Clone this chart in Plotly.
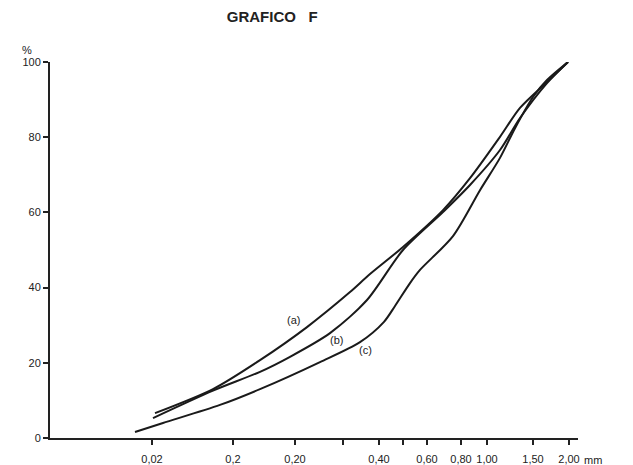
import plotly.graph_objects as go

# x positions along the hand-drawn (non-uniform) grain-size scale, in drawing units
tick_pos = [102, 183, 245, 293, 329, 353, 377, 411, 437, 483, 519]
tick_text = ["0,02", "0,2", "0,20", "", "0,40", "", "0,60", "0,80", "1,00", "1,50", "2,00"]

curve_a_x = [105, 163, 210, 257, 300, 320, 353, 393, 420, 450, 470, 497, 518]
curve_a_y = [6.6, 13.0, 20.7, 29.5, 38.8, 43.6, 50.8, 60.6, 69.1, 80.1, 87.8, 94.7, 100]

curve_b_x = [103, 163, 210, 240, 280, 317, 353, 393, 420, 450, 470, 497, 518]
curve_b_y = [5.3, 12.6, 17.6, 21.6, 27.9, 36.7, 50.0, 60.1, 67.3, 76.6, 85.1, 94.4, 100]

curve_c_x = [85, 113, 170, 210, 270, 310, 334, 345, 360, 370, 403, 430, 450, 465, 483, 497, 518]
curve_c_y = [1.6, 4.0, 8.8, 13.0, 20.2, 25.5, 30.9, 35.1, 41.2, 44.7, 53.7, 65.9, 74.5, 82.4, 90.7, 95.2, 100]

labels = ["(a)", "(b)", "(c)"]
label_x = [243, 286, 315]
label_y = [31.4, 26.0, 23.4]

fig = go.Figure()
for xs, ys in [(curve_a_x, curve_a_y), (curve_b_x, curve_b_y), (curve_c_x, curve_c_y)]:
    fig.add_trace(go.Scatter(x=xs, y=ys, mode="lines",
                             line=dict(color="#1a1a1a", width=2, shape="spline", smoothing=0.8),
                             cliponaxis=False, showlegend=False, hoverinfo="skip"))

for t, lx, ly in zip(labels, label_x, label_y):
    fig.add_annotation(x=lx, y=ly, text=t, showarrow=False,
                       font=dict(family="Liberation Sans", size=11, color="#222"))

fig.add_annotation(xref="paper", yref="paper", x=1.0, y=0, xshift=4, yshift=-22,
                   text="mm", showarrow=False, xanchor="left", yanchor="middle",
                   font=dict(family="Liberation Sans", size=11, color="#222"))
fig.add_annotation(xref="paper", yref="paper", x=0, y=1, xshift=-30, yshift=20,
                   text="%", showarrow=False, xanchor="left",
                   font=dict(family="Liberation Sans", size=11, color="#222"))

fig.update_layout(
    width=633, height=465,
    margin=dict(l=50, r=55, t=62, b=27),
    paper_bgcolor="white", plot_bgcolor="white",
    title=dict(text="<b>GRAFICO&nbsp;&nbsp;&nbsp;F</b>", x=0.43, xanchor="center", y=0.975, yanchor="top",
               font=dict(family="Liberation Sans", size=15, color="#222")),
    xaxis=dict(range=[0, 528], tickmode="array", tickvals=tick_pos, ticktext=tick_text,
               showgrid=False, zeroline=False, showline=True, linecolor="#222", linewidth=2,
               ticks="outside", ticklen=5, tickcolor="#222", tickwidth=1.5, ticklabelstandoff=5,
               automargin=False,
               tickfont=dict(family="Liberation Sans Narrow, Liberation Sans", size=11, color="#222")),
    yaxis=dict(range=[0, 100], tickvals=[0, 20, 40, 60, 80, 100], automargin=False,
               showgrid=False, zeroline=False, showline=True, linecolor="#222", linewidth=2,
               ticks="outside", ticklen=5, tickcolor="#222", tickwidth=1.5,
               tickfont=dict(family="Liberation Sans", size=11, color="#222")),
)

fig.write_html("out.html")
